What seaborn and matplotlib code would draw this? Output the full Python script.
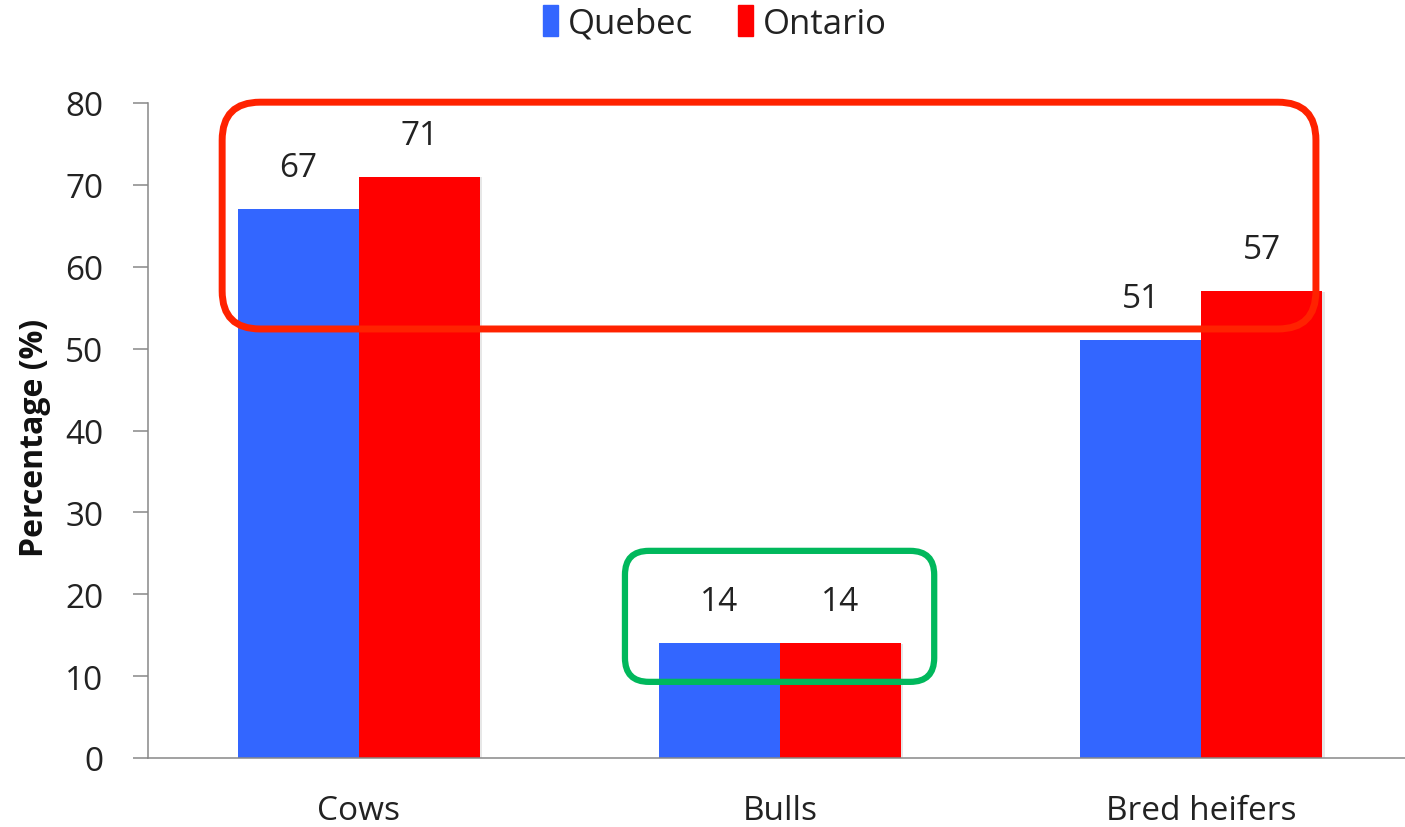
import matplotlib
matplotlib.use("Agg")
import matplotlib.pyplot as plt
import matplotlib.patheffects as pe
from matplotlib.patches import FancyBboxPatch
from matplotlib.transforms import IdentityTransform
import pandas as pd
import seaborn as sns

# =========================
# DATA
# =========================
categories = ["Cows", "Bulls", "Bred heifers"]
provinces = ["Quebec", "Ontario"]
quebec = [67, 14, 51]
ontario = [71, 14, 57]
colors = ["#3366FF", "#FF0000"]

df = pd.DataFrame({
    "category": categories * 2,
    "province": ["Quebec"] * 3 + ["Ontario"] * 3,
    "value": quebec + ontario,
})

# =========================
# FIGURE
# =========================
sns.set_theme(style="white")
plt.rcParams["font.family"] = ["Open Sans", "DejaVu Sans"]

DPI = 100
fig = plt.figure(figsize=(14.05, 8.28), dpi=DPI)
ax = fig.add_axes([148 / 1405, 69 / 828, 1264 / 1405, 655 / 828])

sns.barplot(data=df, x="category", y="value", hue="province",
            order=categories, hue_order=provinces, palette=colors,
            width=0.575, gap=0, saturation=1, legend=False, ax=ax)

for patch in ax.patches:
    patch.set_linewidth(0)
    patch.set_path_effects([
        pe.SimplePatchShadow(offset=(1.5, -0.5), shadow_rgbFace="#bbbbbb", alpha=0.35),
        pe.Normal(),
    ])

for cont in ax.containers:
    ax.bar_label(cont, fmt="%d", padding=18, fontsize=24, color="#222222")

ax.set_xlim(-0.5, 2.5)
ax.set_ylim(0, 80)
ax.set_yticks(range(0, 81, 10))
ax.set_xticks(range(len(categories)))
ax.set_xticks([-0.5, 0.5, 1.5, 2.5], minor=True)

ax.tick_params(axis="x", which="major", length=0, pad=26, labelsize=24, labelcolor="#222222")
ax.tick_params(axis="x", which="minor", length=9, width=1.1, color="#888888", direction="out")
ax.tick_params(axis="y", length=11, width=1.1, color="#888888", direction="out",
               pad=21, labelsize=24, labelcolor="#222222", left=True)

for side in ["top", "right"]:
    ax.spines[side].set_visible(False)
for side in ["left", "bottom"]:
    ax.spines[side].set_color("#888888")
    ax.spines[side].set_linewidth(1.1)

ax.set_xlabel("")
ax.set_ylabel("Percentage (%)", fontsize=23, fontweight="bold", color="#111111")
ax.yaxis.set_label_coords(-0.077, 0.49)

# legend
handles = [plt.Rectangle((0, 0), 1, 1, color=c) for c in colors]
fig.legend(handles, provinces, loc="upper center", bbox_to_anchor=(0.509, 1.03),
           ncol=2, frameon=False, fontsize=25, handlelength=0.42, handleheight=1.0,
           handletextpad=0.3, columnspacing=1.3, labelcolor="#222222")

# =========================
# HIGHLIGHT BOXES (data coords -> pixels)
# =========================
fig.canvas.draw()

def rounded_box(x0, y0, x1, y1, color, lw, radius):
    (px0, py0) = ax.transData.transform((x0, y0))
    (px1, py1) = ax.transData.transform((x1, y1))
    box = FancyBboxPatch((px0, py0), px1 - px0, py1 - py0,
                         boxstyle=f"round,pad=0,rounding_size={radius}",
                         transform=IdentityTransform(), fill=False,
                         edgecolor=color, linewidth=lw, clip_on=False, zorder=10)
    fig.add_artist(box)

rounded_box(-0.324, 52.4, 2.272, 80.1, "#FF2200", 5, 38)
rounded_box(0.632, 9.3, 1.366, 25.3, "#00B85C", 4.5, 24)

fig.savefig("out.png", dpi=DPI, facecolor="white")
